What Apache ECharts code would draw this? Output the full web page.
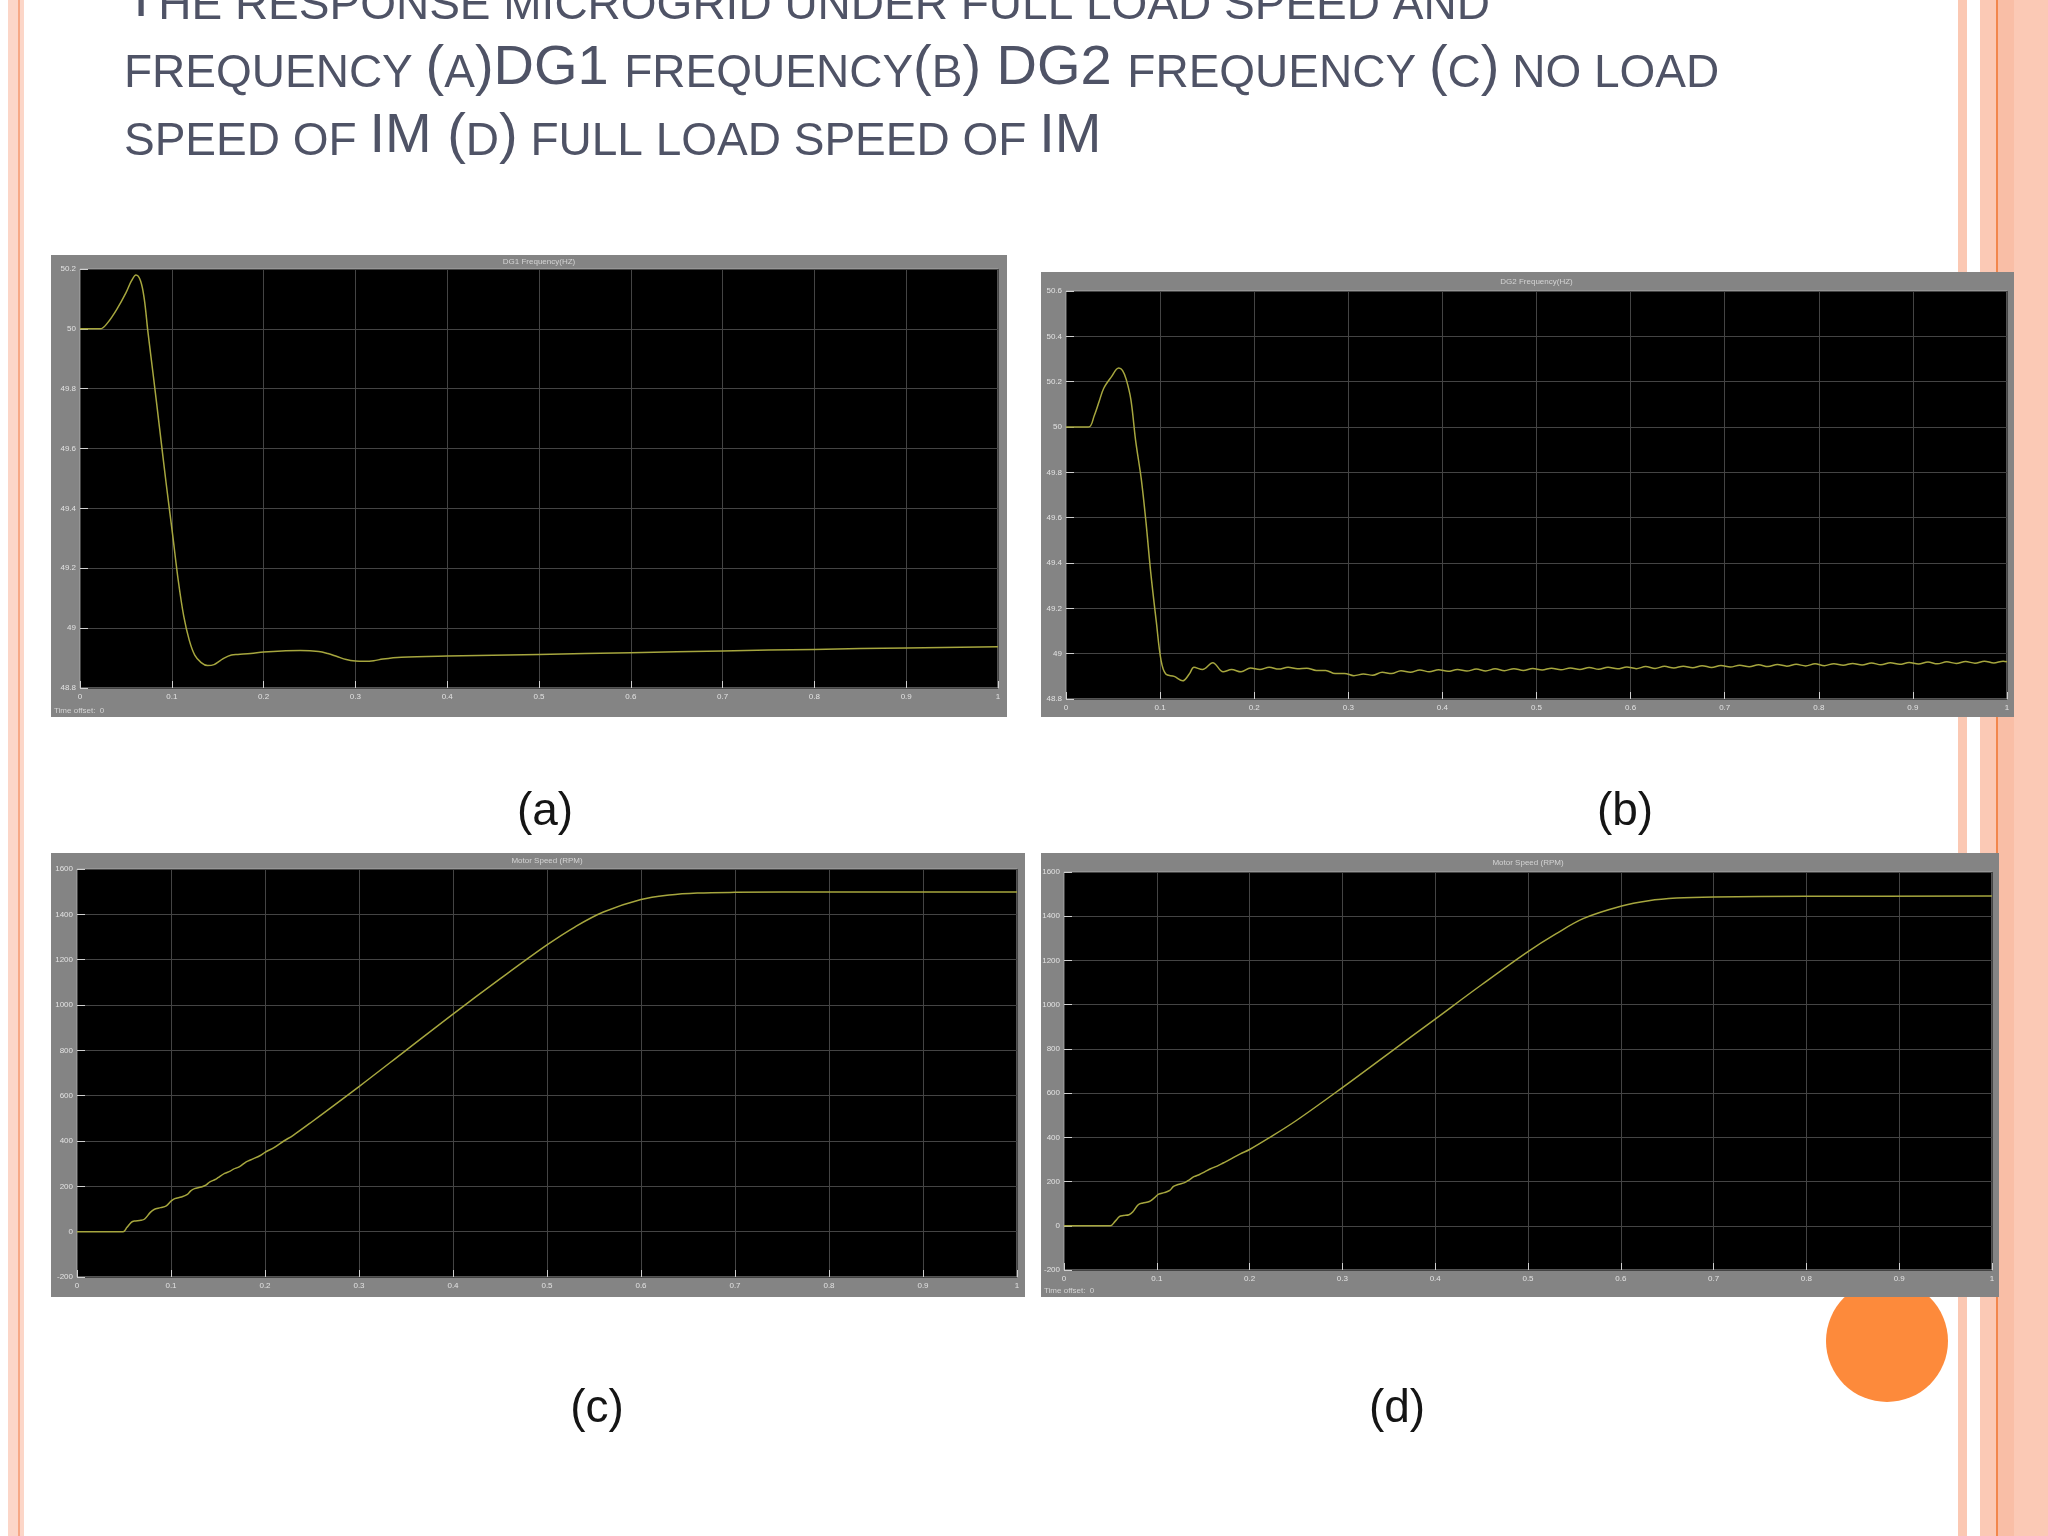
<!DOCTYPE html>
<html><head><meta charset="utf-8">
<script src="https://cdn.jsdelivr.net/npm/echarts@6.0.0/dist/echarts.min.js"></script>
<style>html,body{margin:0;padding:0;background:#fff}#c{width:2048px;height:1536px}</style>
</head><body><div id="c"></div><script>
// ---- data ----
const xTicks = ['0','0.1','0.2','0.3','0.4','0.5','0.6','0.7','0.8','0.9','1'];
const yTicksA = ['48.8','49','49.2','49.4','49.6','49.8','50','50.2'];
const yTicksB = ['48.8','49','49.2','49.4','49.6','49.8','50','50.2','50.4','50.6'];
const yTicksSpeed = ['-200','0','200','400','600','800','1000','1200','1400','1600'];

// (a) DG1 frequency (Hz)
const tA = [0,0.022,0.03,0.041,0.05,0.056,0.061,0.066,0.070,0.074,0.080,0.087,0.094,0.101,0.107,0.113,0.119,0.125,0.132,0.139,0.146,0.152,0.157,0.165,0.172,0.186,0.2,0.22,0.24,0.26,0.27,0.28,0.29,0.3,0.31,0.32,0.33,0.35,0.4,0.5,0.6,0.7,0.8,0.9,1.0];
const fA = [50,50,50.02,50.07,50.12,50.16,50.18,50.16,50.10,49.99,49.84,49.66,49.48,49.31,49.16,49.04,48.96,48.91,48.885,48.875,48.878,48.89,48.90,48.91,48.912,48.915,48.92,48.924,48.925,48.922,48.915,48.905,48.895,48.89,48.889,48.891,48.897,48.903,48.907,48.912,48.918,48.924,48.929,48.934,48.938];

// (b) DG2 frequency (Hz)
const tB = [0,0.024,0.030,0.035,0.040,0.048,0.056,0.060,0.064,0.069,0.074,0.080,0.085,0.090,0.096,0.101,0.106,0.115,0.124,0.131,0.136,0.145,0.156,0.167,0.176,0.186,0.196,0.206,0.216,0.226,0.236,0.246,0.256,0.266,0.276,0.286,0.296,0.306,0.316,0.326,0.336,0.346,0.356,0.366,0.376,0.386,
 0.396,0.406,0.416,0.426,0.436,0.446,0.456,0.466,0.476,0.486,0.496,0.506,0.516,0.526,0.536,0.546,0.556,0.566,0.576,0.586,0.596,0.606,0.616,0.626,0.636,0.646,0.656,0.666,0.676,0.686,0.696,0.706,0.716,0.726,0.736,0.746,0.756,0.766,0.776,0.786,0.796,0.806,0.816,0.826,0.836,0.846,0.856,0.866,0.876,0.886,0.896,0.906,0.916,0.926,0.936,0.946,0.956,0.966,0.976,0.986,0.996,1.0];
const fB = [50,50,50.05,50.11,50.17,50.22,50.26,50.25,50.21,50.12,49.94,49.77,49.58,49.36,49.14,48.97,48.91,48.90,48.88,48.91,48.94,48.93,48.96,48.92,48.93,48.92,48.937,48.93,48.94,48.932,48.94,48.933,48.936,48.926,48.926,48.912,48.913,48.903,48.91,48.905,48.918,48.912,48.925,48.918,48.928,48.92,
 48.929,48.922,48.930,48.923,48.932,48.924,48.933,48.925,48.934,48.926,48.935,48.928,48.936,48.929,48.937,48.930,48.939,48.931,48.940,48.933,48.941,48.934,48.943,48.935,48.944,48.937,48.945,48.938,48.947,48.939,48.948,48.941,48.949,48.942,48.951,48.943,48.952,48.945,48.953,48.946,48.955,48.947,48.956,48.949,48.957,48.950,48.959,48.951,48.960,48.953,48.961,48.954,48.963,48.955,48.964,48.957,48.965,48.958,48.967,48.959,48.967,48.964];

// (c) no-load motor speed (RPM)
const tC = [0,0.049,0.053,0.058,0.061,0.068,0.072,0.078,0.082,0.089,0.095,0.100,0.104,0.111,0.117,0.121,0.125,0.132,0.137,0.141,0.147,0.150,0.157,0.163,0.166,0.173,0.18,0.186,0.195,0.2,0.21,0.22,0.23,0.25,0.3,0.35,0.4,0.45,0.5,0.53,0.56,0.6,0.63,0.66,0.7,0.8,1.0];
const sC = [0,0,18,42,47,50,56,85,98,106,114,135,146,153,163,180,190,197,205,219,230,238,257,267,275,287,308,319,336,350,372,400,425,485,640,800,960,1115,1265,1345,1410,1465,1485,1494,1497,1499,1499];

// (d) full-load motor speed (RPM)
const tD = [0,0.05,0.055,0.06,0.064,0.07,0.074,0.08,0.085,0.092,0.097,0.102,0.108,0.114,0.118,0.123,0.13,0.135,0.14,0.146,0.152,0.158,0.165,0.172,0.178,0.19,0.2,0.22,0.25,0.3,0.35,0.4,0.45,0.5,0.53,0.56,0.6,0.63,0.66,0.7,0.8,1.0];
const sD = [0,0,20,42,46,50,62,95,103,110,125,143,150,160,178,187,195,208,222,232,245,258,270,285,298,325,345,395,475,625,780,935,1090,1240,1320,1390,1445,1470,1482,1487,1490,1491];

const plotTitles = ['DG1 Frequency(HZ)','DG2 Frequency(HZ)','Motor Speed (RPM)','Motor Speed (RPM)'];
const panelLabels = ['(a)','(b)','(c)','(d)'];

// ---- layout ----
const panels = [
  {frame:[51,255,956,462], grid:[80,269,918,419], ymin:48.8, ymax:50.2, yint:0.2, yt:yTicksA, t:tA, v:fA, offset:true},
  {frame:[1041,272,973,445], grid:[1066,291,941,408], ymin:48.8, ymax:50.6, yint:0.2, yt:yTicksB, t:tB, v:fB, offset:false},
  {frame:[51,853,974,444], grid:[77,869,940,408], ymin:-200, ymax:1600, yint:200, yt:yTicksSpeed, t:tC, v:sC, offset:false},
  {frame:[1041,853,958,444], grid:[1064,872,928,398], ymin:-200, ymax:1600, yint:200, yt:yTicksSpeed, t:tD, v:sD, offset:true}
];
const labelPos = [[545,812],[1625,812],[597,1409],[1397,1409]];

const chart = echarts.init(document.getElementById('c'), null, {renderer:'canvas'});
const grids=[], xAxes=[], yAxes=[], series=[], graphics=[];

// slide decorations
graphics.push({type:'rect', z:0, shape:{x:8,y:0,width:16,height:1536}, style:{fill:'#FCD6C8'}});
graphics.push({type:'rect', z:0, shape:{x:18,y:0,width:2,height:1536}, style:{fill:'#F6A886'}});
graphics.push({type:'rect', z:0, shape:{x:1958,y:0,width:9,height:1536}, style:{fill:'#FBC8B3'}});
graphics.push({type:'rect', z:0, shape:{x:1980,y:0,width:68,height:1536}, style:{fill:'#FBC9B5'}});
graphics.push({type:'rect', z:0, shape:{x:1996,y:0,width:2,height:1536}, style:{fill:'#F2874D'}});
graphics.push({type:'rect', z:0, shape:{x:1998,y:0,width:16,height:1536}, style:{fill:'#F9BEA6'}});
graphics.push({type:'circle', z:0, shape:{cx:1887,cy:1341,r:61}, style:{fill:'#FD8A3B'}});

panels.forEach((p,i)=>{
  graphics.push({type:'rect', z:1, shape:{x:p.frame[0],y:p.frame[1],width:p.frame[2],height:p.frame[3]}, style:{fill:'#848484'}});
  graphics.push({type:'text', z:10, x:p.grid[0]+p.grid[2]/2, y:(p.frame[1]+p.grid[1])/2,
    style:{text:plotTitles[i], fill:'#d4d4d4', fontSize:8, fontFamily:'Liberation Sans', align:'center', verticalAlign:'middle'}});
  if(p.offset){
    graphics.push({type:'text', z:10, x:p.frame[0]+3, y:p.frame[1]+p.frame[3]-2,
      style:{text:'Time offset:  0', fill:'#d4d4d4', fontSize:8, fontFamily:'Liberation Sans', align:'left', verticalAlign:'bottom'}});
  }
  graphics.push({type:'text', z:10, x:labelPos[i][0], y:labelPos[i][1],
    style:{text:panelLabels[i], fill:'#151515', fontSize:46, fontFamily:'Liberation Sans', align:'center', verticalAlign:'middle'}});

  grids.push({show:true, z:5, left:p.grid[0], top:p.grid[1], width:p.grid[2], height:p.grid[3],
    backgroundColor:'#000', borderColor:'#a8a8a8', borderWidth:1});
  xAxes.push({type:'value', gridIndex:i, z:6, min:0, max:1, interval:0.1,
    axisLine:{show:false, onZero:false},
    axisTick:{show:true, inside:true, length:7, lineStyle:{color:'#d0d0d0'}},
    axisLabel:{color:'#e2e2e2', fontSize:8, margin:5, fontFamily:'Liberation Sans',
      formatter:(v)=>xTicks[Math.round(v*10)]},
    splitLine:{show:true, lineStyle:{color:'#444444', width:1}}});
  yAxes.push({type:'value', gridIndex:i, z:6, min:p.ymin, max:p.ymax, interval:p.yint,
    axisLine:{show:false, onZero:false},
    axisTick:{show:true, inside:true, length:8, lineStyle:{color:'#d0d0d0'}},
    axisLabel:{color:'#e2e2e2', fontSize:8, margin:4, fontFamily:'Liberation Sans',
      formatter:(v)=>p.yt[Math.round((v-p.ymin)/p.yint)]},
    splitLine:{show:true, lineStyle:{color:'#444444', width:1}}});
  series.push({type:'line', xAxisIndex:i, yAxisIndex:i, z:7, showSymbol:false, smooth:0.35,
    animation:false, data:p.t.map((t,k)=>[t,p.v[k]]),
    lineStyle:{color:'#a6a63e', width:1.5}});
});

// slide title (small caps)
const cT = '#4F5366';
const rich = {
  b:{fontSize:56, fontFamily:'Liberation Sans', fill:cT, color:cT, verticalAlign:'bottom'},
  s:{fontSize:46, fontFamily:'Liberation Sans', fill:cT, color:cT, verticalAlign:'bottom'}
};
const titleLines = [
  '{b|T}{s|HE RESPONSE MICROGRID UNDER FULL LOAD SPEED AND}',
  '{s|FREQUENCY }{b|(}{s|A}{b|)DG1 }{s|FREQUENCY}{b|(}{s|B}{b|) DG2 }{s|FREQUENCY }{b|(}{s|C}{b|)}{s| NO LOAD}',
  '{s|SPEED OF }{b|IM (}{s|D}{b|)}{s| FULL LOAD SPEED OF }{b|IM}'
];
const baselines = [21, 89, 157];
titleLines.forEach((tx,i)=>{
  graphics.push({type:'text', z:10, x:124, y:baselines[i]+8,
    style:{text:tx, rich:rich, align:'left', verticalAlign:'bottom', fill:cT}});
});

chart.setOption({
  backgroundColor:'#ffffff',
  animation:false,
  grid:grids, xAxis:xAxes, yAxis:yAxes, series:series,
  graphic:{elements:graphics}
});
</script></body></html>
